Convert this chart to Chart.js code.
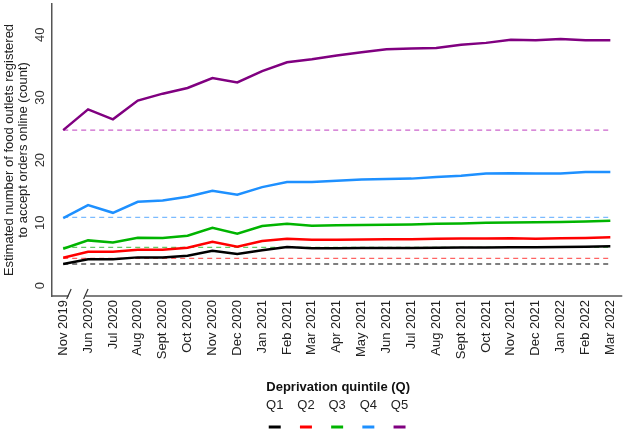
<!DOCTYPE html>
<html>
<head>
<meta charset="utf-8">
<script src="https://cdn.jsdelivr.net/npm/chart.js@4.4.1/dist/chart.umd.min.js"></script>
<style>
html, body { margin: 0; padding: 0; background: #fff; }
</style>
</head>
<body>
<canvas id="grafico" width="630" height="431"></canvas>
<script>
const meses = ['Nov 2019', 'Jun 2020', 'Jul 2020', 'Aug 2020', 'Sept 2020', 'Oct 2020', 'Nov 2020', 'Dec 2020',
    'Jan 2021', 'Feb 2021', 'Mar 2021', 'Apr 2021', 'May 2021', 'Jun 2021', 'Jul 2021', 'Aug 2021',
    'Sept 2021', 'Oct 2021', 'Nov 2021', 'Dec 2021', 'Jan 2022', 'Feb 2022', 'Mar 2022'];

const q1 = [3.43, 4.18, 4.18, 4.49, 4.49, 4.75, 5.55, 5.02, 5.61, 6.14, 5.93, 5.95, 5.97, 6.0, 6.0, 6.02, 6.05, 6.07, 6.1, 6.1, 6.15, 6.2, 6.25];
const q2 = [4.43, 5.39, 5.39, 5.71, 5.71, 6.02, 6.98, 6.18, 7.09, 7.46, 7.3, 7.3, 7.35, 7.4, 7.4, 7.45, 7.5, 7.5, 7.55, 7.45, 7.55, 7.6, 7.7];
const q3 = [5.86, 7.2, 6.88, 7.62, 7.57, 7.94, 9.21, 8.25, 9.48, 9.85, 9.53, 9.6, 9.65, 9.7, 9.75, 9.85, 9.9, 10.0, 10.05, 10.1, 10.15, 10.2, 10.33];
const q4 = [10.76, 12.83, 11.6, 13.35, 13.58, 14.15, 15.1, 14.47, 15.7, 16.5, 16.5, 16.7, 16.9, 17.0, 17.05, 17.3, 17.5, 17.85, 17.9, 17.85, 17.85, 18.1, 18.1];
const q5 = [24.78, 28.1, 26.5, 29.5, 30.6, 31.5, 33.1, 32.4, 34.2, 35.6, 36.1, 36.7, 37.2, 37.7, 37.8, 37.9, 38.4, 38.7, 39.2, 39.1, 39.3, 39.1, 39.1];

// valor de referencia (Nov 2019) de cada quintil, linha tracejada
const linhaBase = [3.43, 4.33, 6.09, 10.87, 24.78];

const quintis = ['Q1', 'Q2', 'Q3', 'Q4', 'Q5'];
const ticksY = [0, 10, 20, 30, 40];

const cores = ['#000000', '#ff0000', '#00b400', '#1e90ff', '#800080'];
const coresTracejado = ['rgba(40,40,40,0.8)', 'rgba(255,60,60,0.8)', 'rgba(60,190,60,0.8)', 'rgba(90,170,255,0.8)', 'rgba(190,60,190,0.8)'];
const fonte = '"Liberation Sans", Arial, sans-serif';

const series = [q1, q2, q3, q4, q5];
const paraPontos = (valores) => valores.map((v, i) => ({ x: i, y: v }));

const datasets = [];
series.forEach((valores, i) => {
    datasets.push({
        label: quintis[i],
        data: paraPontos(valores),
        borderColor: cores[i],
        borderWidth: 2.5,
        pointRadius: 0,
        tension: 0
    });
});
linhaBase.forEach((v, i) => {
    datasets.push({
        label: quintis[i] + ' base',
        data: paraPontos(meses.map(() => v)),
        borderColor: coresTracejado[i],
        borderWidth: 1.3,
        borderDash: [5, 4],
        pointRadius: 0,
        tension: 0
    });
});

// rótulos do eixo Y (rotacionados), eixo X com quebra e legenda
const desenhosExtras = {
    id: 'desenhosExtras',
    afterDraw(chart) {
        const ctx = chart.ctx;
        const sy = chart.scales.y;
        const sx = chart.scales.x;
        const area = chart.chartArea;
        ctx.save();

        ctx.font = '13px ' + fonte;
        ctx.fillStyle = '#333';
        ctx.textAlign = 'center';
        ctx.textBaseline = 'middle';
        for (const v of ticksY) {
            ctx.save();
            ctx.translate(40, sy.getPixelForValue(v));
            ctx.rotate(-Math.PI / 2);
            ctx.fillText(String(v), 0, 0);
            ctx.restore();
        }

        // eixo X com a quebra entre Nov 2019 e Jun 2020
        const yEixo = area.bottom;
        const q1x = sx.getPixelForValue(0.22);
        const q2x = sx.getPixelForValue(0.9);
        ctx.strokeStyle = '#555';
        ctx.lineWidth = 1.5;
        ctx.beginPath();
        ctx.moveTo(area.left - 0.75, yEixo);
        ctx.lineTo(q1x, yEixo);
        ctx.moveTo(q2x, yEixo);
        ctx.lineTo(area.right, yEixo);
        ctx.stroke();
        ctx.lineWidth = 1.2;
        ctx.strokeStyle = '#333';
        ctx.beginPath();
        for (const qx of [q1x, q2x]) {
            ctx.moveTo(qx + 2.5, yEixo - 7);
            ctx.lineTo(qx - 2, yEixo + 3);
        }
        ctx.stroke();

        // legenda
        const centro = (area.left + area.right) / 2;
        ctx.fillStyle = '#111';
        ctx.font = 'bold 13px ' + fonte;
        ctx.fillText('Deprivation quintile (Q)', centro + 1, 387);
        ctx.font = '13px ' + fonte;
        const passo = 31.2;
        quintis.forEach((q, i) => {
            const cx = centro + (i - 2) * passo;
            ctx.fillStyle = '#222';
            ctx.fillText(q, cx, 405);
            ctx.strokeStyle = cores[i];
            ctx.lineWidth = 3;
            ctx.beginPath();
            ctx.moveTo(cx - 6, 427);
            ctx.lineTo(cx + 6, 427);
            ctx.stroke();
        });
        ctx.restore();
    }
};

new Chart(document.getElementById('grafico').getContext('2d'), {
    type: 'line',
    data: { datasets: datasets },
    options: {
        responsive: false,
        animation: false,
        devicePixelRatio: 1,
        layout: { padding: { top: 4, right: 3, left: 0, bottom: 0 } },
        plugins: {
            legend: { display: false },
            tooltip: { enabled: false }
        },
        scales: {
            x: {
                type: 'linear',
                min: -0.45,
                max: 22.48,
                afterBuildTicks: (s) => { s.ticks = meses.map((m, i) => ({ value: i })); },
                afterFit: (s) => { s.height = 135; },
                grid: { display: false, drawTicks: false },
                border: { display: false },
                ticks: {
                    autoSkip: false,
                    minRotation: 90,
                    maxRotation: 90,
                    padding: 4,
                    color: '#222',
                    font: { family: fonte, size: 13 },
                    callback: (v) => meses[Math.round(v)]
                }
            },
            y: {
                min: -1.67,
                max: 44.9,
                afterBuildTicks: (s) => { s.ticks = ticksY.map(v => ({ value: v })); },
                afterFit: (s) => { s.width = 52; },
                grid: { display: false, drawTicks: false },
                border: { display: true, color: '#555', width: 1.5 },
                ticks: { display: false },
                title: {
                    display: true,
                    text: ['Estimated number of food outlets registered', 'to accept orders online (count)'],
                    color: '#222',
                    font: { family: fonte, size: 13, lineHeight: 1.05 },
                    padding: { top: 3, bottom: 0 }
                }
            }
        }
    },
    plugins: [desenhosExtras]
});
</script>
</body>
</html>
